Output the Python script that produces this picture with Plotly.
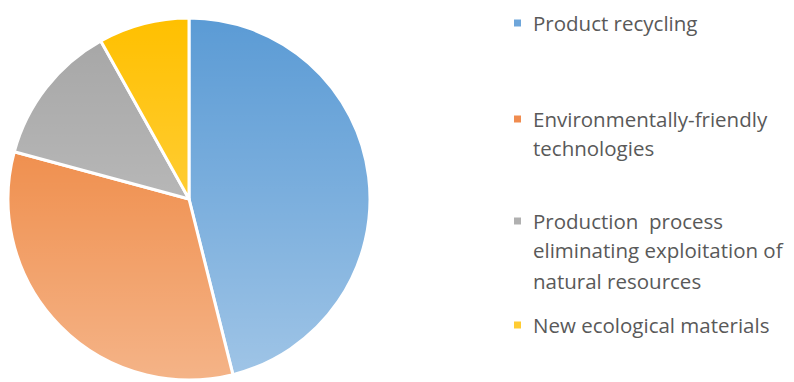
import base64
import plotly.graph_objects as go

categories = ["Product recycling", "Environmentally-friendly technologies",
              "Production process eliminating exploitation of natural resources",
              "New ecological materials"]
legend_lines = [["Product recycling"],
                ["Environmentally-friendly", "technologies"],
                ["Production  process", "eliminating exploitation of", "natural resources"],
                ["New ecological materials"]]
values = [46.1, 33.1, 12.7, 8.1]
colors = ["#5b9bd5", "#ed7d31", "#a5a5a5", "#ffc000"]
marker_colors = ["#6ea6da", "#f08c4f", "#b0b0b0", "#ffcc33"]

W, H = 794, 382
OFF = 8  # page body margin
def px(x):
    return (x - OFF) / W
def py(y):
    return (H - (y - OFF)) / H

fig = go.Figure()
fig.add_trace(go.Pie(
    labels=categories, values=values, sort=False, direction="clockwise",
    rotation=0, textinfo="none", hoverinfo="label+percent",
    marker=dict(colors=colors, line=dict(color="white", width=3)),
    domain=dict(x=[0, px(370)], y=[py(380), py(18)]),
    showlegend=False,
))

# vertical white gradient overlay to emulate lighter bottoms of slices
svg = ('<svg xmlns="http://www.w3.org/2000/svg" width="100" height="100" preserveAspectRatio="none">'
       '<defs><linearGradient id="g" x1="0" y1="0" x2="0" y2="1">'
       '<stop offset="0" stop-color="white" stop-opacity="0"/>'
       '<stop offset="0.5" stop-color="white" stop-opacity="0.2"/>'
       '<stop offset="1" stop-color="white" stop-opacity="0.42"/>'
       '</linearGradient></defs><rect width="100" height="100" fill="url(#g)"/></svg>')
src = "data:image/svg+xml;base64," + base64.b64encode(svg.encode()).decode()
fig.add_layout_image(dict(source=src, xref="paper", yref="paper",
                          x=0, y=py(18), sizex=px(370), sizey=362 / H,
                          xanchor="left", yanchor="top", sizing="stretch", layer="above"))

line_y = [[23], [119, 148], [221, 250, 281], [325]]
for lines, ys, mc in zip(legend_lines, line_y, marker_colors):
    for txt, yy in zip(lines, ys):
        fig.add_annotation(text=txt, x=px(532), y=py(yy), xref="paper", yref="paper",
                           xanchor="left", yanchor="middle", showarrow=False, borderpad=0,
                           font=dict(family="Open Sans", size=20.5, color="#595959"))
    fig.add_shape(type="rect", xref="paper", yref="paper",
                  x0=px(514), x1=px(521), y0=py(ys[0] + 3.5), y1=py(ys[0] - 3.5),
                  fillcolor=mc, line=dict(width=0))

fig.update_layout(width=W, height=H, margin=dict(l=0, r=0, t=0, b=0),
                  paper_bgcolor="white", plot_bgcolor="white")
fig.write_html("out.html")
